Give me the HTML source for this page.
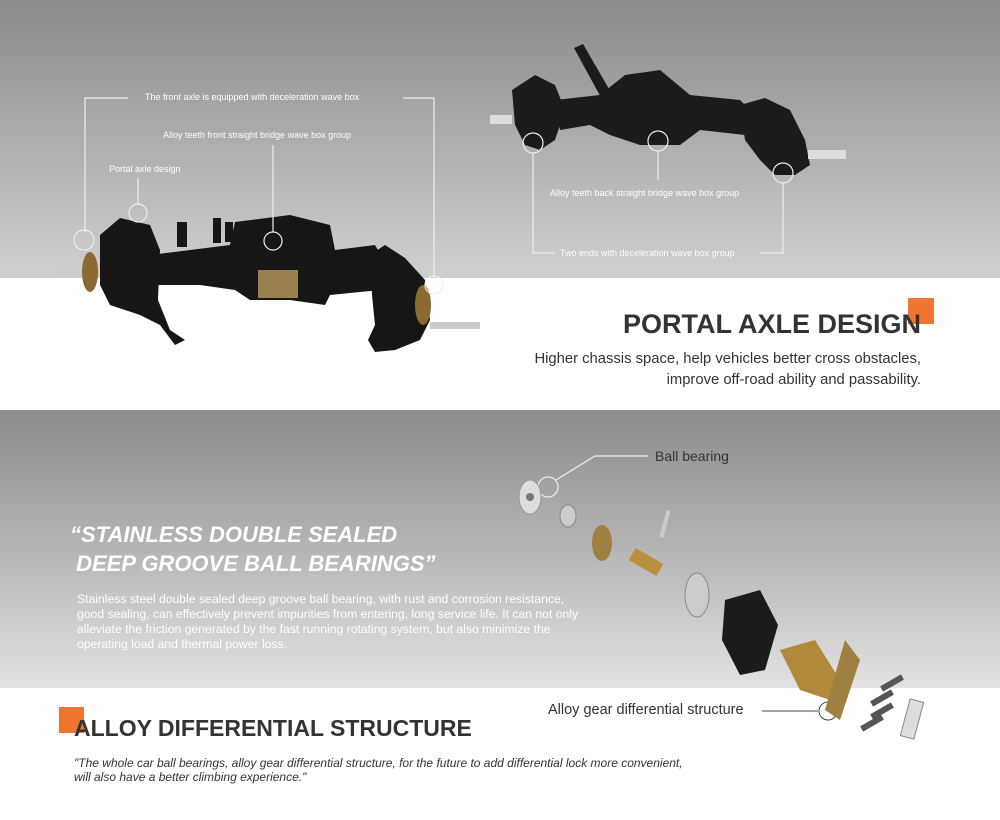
<!DOCTYPE html>
<html><head><meta charset="utf-8"><style>
body{margin:0;width:1000px;height:820px;overflow:hidden;background:#fff;font-family:"Liberation Sans",sans-serif;position:relative}
.b1{position:absolute;left:0;top:0;width:1000px;height:278px;background:linear-gradient(#8a8a8a,#c9c9c9 90%,#cfcfcf)}
.b2{position:absolute;left:0;top:410px;width:1000px;height:278px;background:linear-gradient(#8b8b8b,#b5b5b5 50%,#e2e2e2)}
.t{position:absolute;white-space:nowrap}
svg{position:absolute;left:0;top:0}
</style></head><body>
<div class="b1"></div><div class="b2"></div>
<svg width="1000" height="820">
<g fill="#161616">
<path d="M100 235L120 218L150 225L160 250L158 300L170 330L185 340L175 345L160 325L140 315L110 305L100 285Z"/>
<path d="M150 255L230 245L235 222L290 215L330 225L335 250L375 245L385 262L380 290L330 295L325 305L290 300L250 300L235 290L200 285L155 285Z"/>
<path d="M370 255L385 245L405 258L425 280L430 320L420 340L395 350L375 352L368 340L375 325L372 295Z"/>
<rect x="177" y="222" width="10" height="25"/><rect x="213" y="218" width="8" height="25"/><rect x="225" y="222" width="8" height="20"/>
</g>
<rect x="258" y="270" width="40" height="28" fill="#9a8050"/>
<rect x="58" y="268" width="40" height="8" fill="#ccc"/><rect x="430" y="322" width="50" height="7" fill="#ccc"/>
<ellipse cx="90" cy="272" rx="8" ry="20" fill="#8a6a30"/><ellipse cx="423" cy="305" rx="8" ry="20" fill="#8a6a30"/>
<g fill="#1b1b1b">
<path d="M512 90L535 75L555 85L565 110L555 140L540 150L525 145L515 125Z"/>
<path d="M555 100L600 95L625 75L660 70L690 95L740 100L750 110L745 135L700 130L680 145L640 145L610 135L590 125L560 130Z"/>
<path d="M740 105L765 98L790 110L805 140L810 165L795 175L775 175L760 160L745 140Z"/>
<path d="M574 48L583 44L620 108L610 114Z"/>
</g>
<rect x="490" y="115" width="22" height="9" fill="#ddd"/><rect x="808" y="150" width="38" height="9" fill="#ddd"/>
<g fill="none" stroke="#eee" stroke-width="1.2">
<path d="M128 98H85V232"/><path d="M403 98H434V278"/>
<path d="M273 145V232"/><path d="M138 178V205"/>
<circle cx="84" cy="240" r="10"/><circle cx="138" cy="213" r="9"/><circle cx="273" cy="241" r="9"/><circle cx="434" cy="285" r="9"/>
<circle cx="533" cy="143" r="10"/><circle cx="658" cy="141" r="10"/><circle cx="783" cy="173" r="10"/>
<path d="M658 151V180"/><path d="M533 153V253H555"/><path d="M760 253H783V183"/>
<path d="M648 456H595L556 480"/><circle cx="548" cy="487" r="10"/>
</g>
<path d="M762 711H818" stroke="#444" fill="none"/><circle cx="828" cy="711" r="9" fill="none" stroke="#444"/>
<ellipse cx="530" cy="497" rx="11" ry="17" fill="#ddd" stroke="#999"/><circle cx="530" cy="497" r="4" fill="#777"/>
<ellipse cx="568" cy="516" rx="8" ry="11" fill="#ccc" stroke="#888"/>
<ellipse cx="602" cy="543" rx="10" ry="18" fill="#a08040"/>
<rect x="663" y="510" width="4" height="28" fill="#ccc" transform="rotate(15 665 524)"/>
<rect x="630" y="555" width="32" height="14" fill="#b89040" transform="rotate(30 646 562)"/>
<ellipse cx="697" cy="595" rx="12" ry="22" fill="#ccc" stroke="#888"/>
<path d="M725 600L760 590L778 625L765 670L740 675L722 640Z" fill="#1b1b1b"/>
<path d="M780 650L815 640L840 680L830 700L800 690Z" fill="#b08a3a"/>
<path d="M845 640L860 660L840 720L825 710Z" fill="#a08040"/>
<g fill="#555"><rect x="880" y="680" width="24" height="6" transform="rotate(-30 892 683)"/><rect x="870" y="695" width="24" height="6" transform="rotate(-30 882 698)"/><rect x="870" y="708" width="24" height="6" transform="rotate(-30 882 711)"/><rect x="860" y="720" width="24" height="6" transform="rotate(-30 872 723)"/></g>
<rect x="905" y="700" width="14" height="38" fill="#ddd" stroke="#888" transform="rotate(15 912 719)"/>
<rect x="908" y="298" width="26" height="26" fill="#f07530"/>
<rect x="59" y="707" width="25" height="26" fill="#f07530"/>
</svg>
<div class="t" style="left:145px;top:92px;font-size:9px;color:#fff">The front axle is equipped with deceleration wave box</div>
<div class="t" style="left:163px;top:130px;font-size:9px;color:#fff">Alloy teeth front straight bridge wave box group</div>
<div class="t" style="left:109px;top:164px;font-size:9px;color:#fff">Portal axle design</div>
<div class="t" style="left:550px;top:188px;font-size:9px;color:#fff">Alloy teeth back straight bridge wave box group</div>
<div class="t" style="left:560px;top:248px;font-size:9px;color:#fff">Two ends with deceleration wave box group</div>
<div class="t" style="right:79px;top:309px;font-size:27px;font-weight:bold;color:#333">PORTAL AXLE DESIGN</div>
<div class="t" style="right:79px;top:349px;font-size:14.8px;line-height:21px;color:#333;text-align:right">Higher chassis space, help vehicles better cross obstacles,<br>improve off-road ability and passability.</div>
<div class="t" style="left:70px;top:520px;font-size:22px;line-height:29px;font-weight:bold;font-style:italic;color:#fff">“STAINLESS DOUBLE SEALED<br>&nbsp;DEEP GROOVE BALL BEARINGS”</div>
<div class="t" style="left:77px;top:592px;font-size:12.2px;line-height:15px;color:#fff">Stainless steel double sealed deep groove ball bearing, with rust and corrosion resistance,<br>good sealing, can effectively prevent impurities from entering, long service life. It can not only<br>alleviate the friction generated by the fast running rotating system, but also minimize the<br>operating load and thermal power loss.</div>
<div class="t" style="left:655px;top:448px;font-size:14px;color:#333">Ball bearing</div>
<div class="t" style="left:548px;top:702px;font-size:14.5px;color:#333">Alloy gear differential structure</div>
<div class="t" style="left:74px;top:715px;font-size:23px;font-weight:bold;color:#333">ALLOY DIFFERENTIAL STRUCTURE</div>
<div class="t" style="left:74px;top:756px;font-size:12px;line-height:14px;font-style:italic;color:#333">"The whole car ball bearings, alloy gear differential structure, for the future to add differential lock more convenient,<br>will also have a better climbing experience."</div>
</body></html>
